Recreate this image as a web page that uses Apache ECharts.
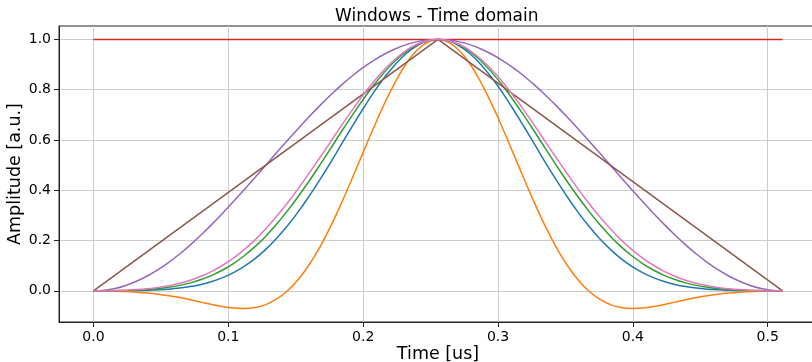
<!DOCTYPE html>
<html>
<head>
<meta charset="utf-8">
<script src="https://cdn.jsdelivr.net/npm/echarts@6/dist/echarts.min.js"></script>
<style>html,body{margin:0;padding:0;background:#fff}#c{width:812px;height:362px}</style>
</head>
<body>
<div id="c"></div>
<script>
// Time samples [us]
var timeUs = [0.0000,0.0080,0.0160,0.0240,0.0319,0.0399,0.0479,0.0559,0.0639,0.0719,0.0798,0.0878,0.0958,0.1038,0.1118,0.1198,0.1278,0.1357,0.1437,0.1517,0.1597,0.1677,0.1757,0.1836,0.1916,0.1996,0.2076,0.2156,0.2236,0.2315,0.2395,0.2475,0.2555,0.2635,0.2715,0.2795,0.2874,0.2954,0.3034,0.3114,0.3194,0.3274,0.3353,0.3433,0.3513,0.3593,0.3673,0.3753,0.3833,0.3912,0.3992,0.4072,0.4152,0.4232,0.4312,0.4391,0.4471,0.4551,0.4631,0.4711,0.4791,0.4870,0.4950,0.5030,0.5110];
// Window amplitudes
var blueWin   = [0.0000,0.0001,0.0002,0.0005,0.0011,0.0021,0.0038,0.0066,0.0108,0.0169,0.0255,0.0372,0.0526,0.0725,0.0975,0.1282,0.1649,0.2080,0.2575,0.3131,0.3742,0.4400,0.5092,0.5804,0.6517,0.7214,0.7873,0.8474,0.8996,0.9423,0.9740,0.9934,1.0000,0.9934,0.9740,0.9423,0.8996,0.8474,0.7873,0.7214,0.6517,0.5804,0.5092,0.4400,0.3742,0.3131,0.2575,0.2080,0.1649,0.1282,0.0975,0.0725,0.0526,0.0372,0.0255,0.0169,0.0108,0.0066,0.0038,0.0021,0.0011,0.0005,0.0002,0.0001,0.0000];
var orangeWin = [-0.0004,-0.0007,-0.0015,-0.0029,-0.0053,-0.0087,-0.0133,-0.0194,-0.0269,-0.0355,-0.0449,-0.0543,-0.0627,-0.0686,-0.0705,-0.0665,-0.0547,-0.0334,-0.0008,0.0440,0.1017,0.1721,0.2541,0.3457,0.4441,0.5459,0.6469,0.7426,0.8285,0.9005,0.9548,0.9885,1.0000,0.9885,0.9548,0.9005,0.8285,0.7426,0.6469,0.5459,0.4441,0.3457,0.2541,0.1721,0.1017,0.0440,-0.0008,-0.0334,-0.0547,-0.0665,-0.0705,-0.0686,-0.0627,-0.0543,-0.0449,-0.0355,-0.0269,-0.0194,-0.0133,-0.0087,-0.0053,-0.0029,-0.0015,-0.0007,-0.0004];
var greenWin  = [0.0001,0.0002,0.0007,0.0015,0.0031,0.0055,0.0091,0.0144,0.0217,0.0317,0.0449,0.0617,0.0828,0.1086,0.1395,0.1757,0.2175,0.2647,0.3170,0.3740,0.4349,0.4988,0.5645,0.6307,0.6958,0.7583,0.8165,0.8690,0.9142,0.9509,0.9779,0.9944,1.0000,0.9944,0.9779,0.9509,0.9142,0.8690,0.8165,0.7583,0.6958,0.6307,0.5645,0.4988,0.4349,0.3740,0.3170,0.2647,0.2175,0.1757,0.1395,0.1086,0.0828,0.0617,0.0449,0.0317,0.0217,0.0144,0.0091,0.0055,0.0031,0.0015,0.0007,0.0002,0.0001];
var purpleWin = [0.0000,0.0024,0.0096,0.0215,0.0381,0.0590,0.0843,0.1135,0.1464,0.1828,0.2222,0.2643,0.3087,0.3549,0.4025,0.4510,0.5000,0.5490,0.5975,0.6451,0.6913,0.7357,0.7778,0.8172,0.8536,0.8865,0.9157,0.9410,0.9619,0.9785,0.9904,0.9976,1.0000,0.9976,0.9904,0.9785,0.9619,0.9410,0.9157,0.8865,0.8536,0.8172,0.7778,0.7357,0.6913,0.6451,0.5975,0.5490,0.5000,0.4510,0.4025,0.3549,0.3087,0.2643,0.2222,0.1828,0.1464,0.1135,0.0843,0.0590,0.0381,0.0215,0.0096,0.0024,0.0000];
var pinkWin   = [0.0001,0.0005,0.0013,0.0027,0.0050,0.0085,0.0135,0.0204,0.0299,0.0422,0.0580,0.0777,0.1017,0.1304,0.1641,0.2028,0.2466,0.2953,0.3485,0.4056,0.4659,0.5283,0.5918,0.6552,0.7170,0.7758,0.8304,0.8792,0.9211,0.9549,0.9797,0.9949,1.0000,0.9949,0.9797,0.9549,0.9211,0.8792,0.8304,0.7758,0.7170,0.6552,0.5918,0.5283,0.4659,0.4056,0.3485,0.2953,0.2466,0.2028,0.1641,0.1304,0.1017,0.0777,0.0580,0.0422,0.0299,0.0204,0.0135,0.0085,0.0050,0.0027,0.0013,0.0005,0.0001];
var rectTime = [0.0000,0.5110];
var rectWin  = [1.0000,1.0000];
var triTime  = [0.0000,0.2555,0.5110];
var triWin   = [0.0000,1.0000,0.0000];
// Tick values
var xTicks = [0.0,0.1,0.2,0.3,0.4,0.5];
var yTicks = [0.0,0.2,0.4,0.6,0.8,1.0];

function pairs(xs, ys){ return xs.map(function(x,i){ return [x, ys[i]]; }); }

var FONT = 'DejaVu Sans';
function line(name, color, xs, ys, smooth){
  return {name:name, type:'line', data:pairs(xs,ys), showSymbol:false, smooth:smooth,
    lineStyle:{color:color, width:1.5}, itemStyle:{color:color}, animation:false, z:2};
}

var chart = echarts.init(document.getElementById('c'), null, {renderer:'canvas'});
chart.setOption({
  animation:false,
  backgroundColor:'#ffffff',
  title:{text:'Windows - Time domain', left:330, top:3,
    textStyle:{fontFamily:FONT, fontSize:17, fontWeight:'normal', color:'#000'}},
  grid:{left:59, top:26, width:758, height:296, show:true, borderColor:'#222', borderWidth:1,
    backgroundColor:'transparent', containLabel:false, outerBoundsMode:'none'},
  xAxis:{type:'value', min:-0.02555, max:0.53655,
    name:'Time [us]', nameLocation:'middle', nameGap:23, nameMoveOverlap:false,
    nameTextStyle:{fontFamily:FONT, fontSize:17.5, color:'#000'},
    axisLine:{show:true, onZero:false, lineStyle:{color:'#222', width:1}},
    axisTick:{show:true, length:5, lineStyle:{color:'#222'}, customValues:xTicks},
    axisLabel:{fontFamily:FONT, fontSize:14, color:'#000', margin:8, customValues:xTicks,
      formatter:function(v){return v.toFixed(1);}},
    splitLine:{show:true, lineStyle:{color:'#cccccc', width:1}}
  },
  yAxis:{type:'value', min:-0.124, max:1.0535,
    name:'Amplitude [a.u.]', nameLocation:'middle', nameGap:35, nameRotate:90, nameMoveOverlap:false,
    nameTextStyle:{fontFamily:FONT, fontSize:17.5, color:'#000'},
    axisLine:{show:true, onZero:false, lineStyle:{color:'#222', width:1}},
    axisTick:{show:true, length:5, lineStyle:{color:'#222'}, customValues:yTicks},
    axisLabel:{fontFamily:FONT, fontSize:14, color:'#000', margin:8, customValues:yTicks,
      formatter:function(v){return v.toFixed(1);}},
    splitLine:{show:true, lineStyle:{color:'#cccccc', width:1}}
  },
  series:[
    line('Kaiser β=14', '#1f77b4', timeUs, blueWin, 0.4),
    line('Flat top', '#ff7f0e', timeUs, orangeWin, 0.4),
    line('Blackman-Harris', '#2ca02c', timeUs, greenWin, 0.4),
    line('Rectangular', '#d62728', rectTime, rectWin, false),
    line('Hann', '#9467bd', timeUs, purpleWin, 0.4),
    line('Triangular', '#8c564b', triTime, triWin, false),
    line('Kaiser β=11', '#e377c2', timeUs, pinkWin, 0.4)
  ]
});
</script>
</body>
</html>
